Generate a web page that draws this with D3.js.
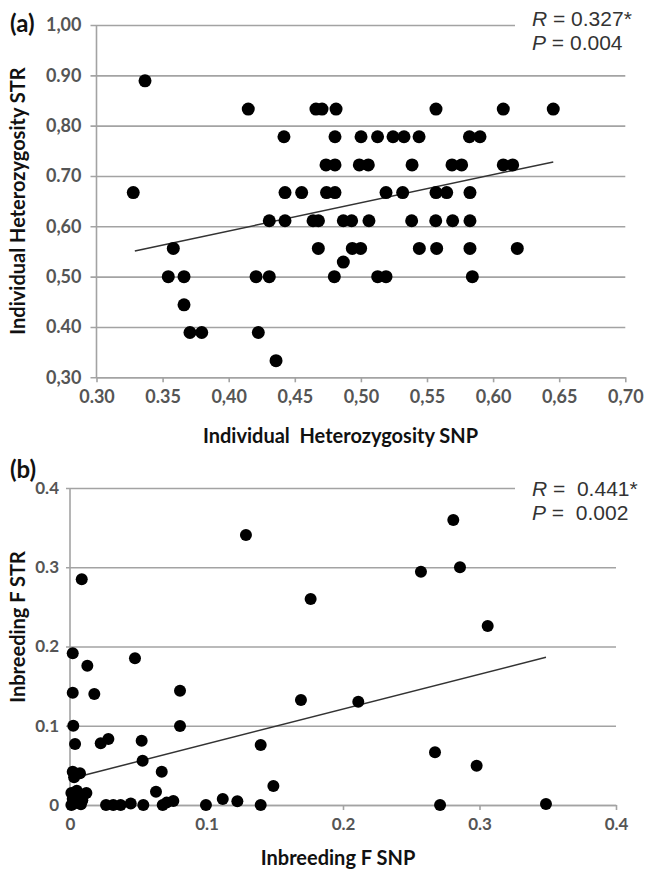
<!DOCTYPE html>
<html><head><meta charset="utf-8">
<script src="https://cdn.jsdelivr.net/npm/d3@7"></script>
<style>body{margin:0;background:#fff}svg{display:block}</style>
</head><body><svg id="c" width="646" height="869"></svg>
<script>
// ---------- Panel (a) data ----------
const snpHet = [
  0.3367,
  0.4148, 0.4660, 0.4706, 0.4812, 0.5568, 0.6077, 0.6455,
  0.4418, 0.4804, 0.5001, 0.5126, 0.5243, 0.5326, 0.5440, 0.5821, 0.5901,
  0.4736, 0.4804, 0.4988, 0.5056, 0.5387, 0.5689, 0.5762, 0.6077, 0.6148,
  0.3278, 0.4426, 0.4552, 0.4740, 0.4804, 0.5190, 0.5316, 0.5568, 0.5649, 0.5825,
  0.4307, 0.4426, 0.4638, 0.4679, 0.4867, 0.4930, 0.5061, 0.5384, 0.5566, 0.5694, 0.5825,
  0.3581, 0.4678, 0.4935, 0.4998, 0.5442, 0.5573, 0.5825, 0.6183,
  0.4867,
  0.3543, 0.3662, 0.4207, 0.4307, 0.4799, 0.5127, 0.5190, 0.5843,
  0.3662,
  0.3707, 0.3796, 0.4224,
  0.4358
];
const strHet = [
  0.889,
  0.833, 0.833, 0.833, 0.833, 0.833, 0.833, 0.833,
  0.778, 0.778, 0.778, 0.778, 0.778, 0.778, 0.778, 0.778, 0.778,
  0.722, 0.722, 0.722, 0.722, 0.722, 0.722, 0.722, 0.722, 0.722,
  0.667, 0.667, 0.667, 0.667, 0.667, 0.667, 0.667, 0.667, 0.667, 0.667,
  0.611, 0.611, 0.611, 0.611, 0.611, 0.611, 0.611, 0.611, 0.611, 0.611, 0.611,
  0.556, 0.556, 0.556, 0.556, 0.556, 0.556, 0.556, 0.556,
  0.529,
  0.500, 0.500, 0.500, 0.500, 0.500, 0.500, 0.500, 0.500,
  0.444,
  0.389, 0.389, 0.389,
  0.333
];
const trendHetX = [0.329, 0.6455];
const trendHetY = [0.551, 0.728];
const xTicksA = [0.30, 0.35, 0.40, 0.45, 0.50, 0.55, 0.60, 0.65, 0.70];
const xLabelsA = ["0.30", "0.35", "0,40", "0,45", "0,50", "0,55", "0,60", "0,65", "0,70"];
const yTicksA = [0.30, 0.40, 0.50, 0.60, 0.70, 0.80, 0.90, 1.00];
const yLabelsA = ["0,30", "0.40", "0,50", "0,60", "0.70", "0,80", "0.90", "1,00"];
const statsA = ["R", " = 0.327*", "P", " = 0.004"];

// ---------- Panel (b) data ----------
const snpF = [
  0.1289, 0.0086, 0.1763, 0.2808, 0.2571, 0.2857, 0.3060, 0.2112, 0.2674, 0.2979, 0.2711, 0.3487,
  0.0020, 0.0127, 0.0476, 0.0020, 0.0178, 0.0806, 0.1692, 0.0024, 0.0806, 0.0037, 0.0225, 0.0281,
  0.0525, 0.1397, 0.0532, 0.0672, 0.0020, 0.0073, 0.0030, 0.1490, 0.0630,
  0.0264, 0.0317, 0.0371, 0.0445, 0.0537, 0.0679, 0.0708, 0.0757, 0.0996, 0.1119, 0.1226, 0.1397,
  0.0010, 0.0020, 0.0030, 0.0040, 0.0060, 0.0080, 0.0100, 0.0120, 0.0010, 0.0050, 0.0090
];
const strF = [
  0.3407, 0.2848, 0.2600, 0.3596, 0.2944, 0.2999, 0.2259, 0.1303, 0.0665, 0.0496, 0.0000, 0.0013,
  0.1914, 0.1758, 0.1851, 0.1417, 0.1401, 0.1443, 0.1325, 0.1001, 0.0997, 0.0770, 0.0779, 0.0833,
  0.0812, 0.0757, 0.0559, 0.0420, 0.0420, 0.0400, 0.0350, 0.0240, 0.0168,
  0.0000, 0.0000, 0.0000, 0.0020, 0.0000, 0.0000, 0.0030, 0.0050, 0.0000, 0.0076, 0.0046, 0.0000,
  0.0150, 0.0080, 0.0020, 0.0120, 0.0040, 0.0010, 0.0130, 0.0150, 0.0000, 0.0180, 0.0060
];
const trendFX = [0.006, 0.3487];
const trendFY = [0.0357, 0.1864];
const xTicksB = [0, 0.1, 0.2, 0.3, 0.4];
const xLabelsB = ["0", "0.1", "0.2", "0.3", "0.4"];
const yTicksB = [0, 0.1, 0.2, 0.3, 0.4];
const yLabelsB = ["0", "0.1", "0.2", "0.3", "0.4"];
const statsB = ["R", " =  0.441*", "P", " =  0.002"];

const svg = d3.select("#c");
svg.append("rect").attr("width", 646).attr("height", 869).attr("fill", "#fff");

const GRID = "#a3a3a3";
const LABFONT = "Lato, 'Open Sans', sans-serif";

function drawPanel(o) {
  const g = svg.append("g");
  const [x0, x1] = o.x.range();
  const [yb, yt] = o.y.range();

  const ay = d3.axisLeft(o.y).tickValues(o.yTicks)
    .tickFormat((d, i) => o.yLabels[i])
    .tickSizeInner(-(x1 - x0 + o.tickExt)).tickSizeOuter(0).tickPadding(o.yPad);
  const gy = g.append("g").attr("transform", `translate(${x0 - o.tickExt},0)`).call(ay);
  gy.select(".domain").remove();
  gy.selectAll(".tick line").attr("stroke", GRID).attr("stroke-width", 1.6);
  gy.selectAll(".tick").filter(d => d === o.yTicks[o.yTicks.length - 1])
    .select("line").attr("x2", o.topGridEnd - (x0 - o.tickExt));
  gy.selectAll(".tick text").attr("fill", "#555").attr("font-family", LABFONT)
    .attr("font-weight", 700).attr("font-size", o.tickFont);

  g.append("line").attr("x1", x0).attr("x2", x0).attr("y1", yt).attr("y2", yb)
    .attr("stroke", GRID).attr("stroke-width", 1.6);

  const ax = d3.axisBottom(o.x).tickValues(o.xTicks)
    .tickFormat((d, i) => o.xLabels[i])
    .tickSizeInner(5).tickSizeOuter(0).tickPadding(o.xPad);
  const gx = g.append("g").attr("transform", `translate(0,${yb})`).call(ax);
  gx.select(".domain").attr("stroke", GRID).attr("stroke-width", 1.6);
  gx.selectAll(".tick line").attr("stroke", GRID).attr("stroke-width", 1.6);
  gx.selectAll(".tick text").attr("fill", "#555").attr("font-family", LABFONT)
    .attr("font-weight", 700).attr("font-size", o.tickFont);

  g.append("line")
    .attr("x1", o.x(o.trendX[0])).attr("y1", o.y(o.trendY[0]))
    .attr("x2", o.x(o.trendX[1])).attr("y2", o.y(o.trendY[1]))
    .attr("stroke", "#333").attr("stroke-width", 1.5);

  g.append("g").selectAll("circle").data(o.xs).join("circle")
    .attr("cx", d => o.x(d)).attr("cy", (d, i) => o.y(o.ys[i]))
    .attr("r", o.r).attr("fill", "#000");

  g.append("text").attr("x", o.xTitlePos[0]).attr("y", o.xTitlePos[1])
    .attr("text-anchor", "middle").attr("font-family", LABFONT).attr("font-weight", 700)
    .attr("font-size", 20).attr("fill", "#111").style("white-space", "pre").text(o.xTitle);
  g.append("text").attr("transform", `translate(${o.yTitlePos[0]},${o.yTitlePos[1]}) rotate(-90)`)
    .attr("text-anchor", "middle").attr("font-family", LABFONT).attr("font-weight", 700)
    .attr("font-size", 20).attr("fill", "#111").text(o.yTitle);

  g.append("text").attr("x", 10).attr("y", o.panelY).attr("font-family", LABFONT)
    .attr("font-weight", 700).attr("font-size", 24).attr("fill", "#111").text(o.panel);

  [0, 1].forEach(k => {
    const t = g.append("text").attr("x", 532).attr("y", o.statY[k])
      .attr("font-family", "'Liberation Sans', Arial, sans-serif").attr("font-size", 21)
      .attr("fill", "#333").style("white-space", "pre");
    t.append("tspan").attr("font-style", "italic").text(o.stats[2 * k]);
    t.append("tspan").text(o.stats[2 * k + 1]);
  });
}

drawPanel({
  x: d3.scaleLinear().domain([0.30, 0.70]).range([96.5, 625.3]),
  y: d3.scaleLinear().domain([0.30, 1.00]).range([377.3, 25]),
  xTicks: xTicksA, xLabels: xLabelsA, yTicks: yTicksA, yLabels: yLabelsA,
  tickExt: 6, yPad: 9, xPad: 8, tickFont: 18, topGridEnd: 515,
  xs: snpHet, ys: strHet, r: 6.5, trendX: trendHetX, trendY: trendHetY,
  xTitle: "Individual  Heterozygosity SNP", xTitlePos: [340.5, 443],
  yTitle: "Individual Heterozygosity STR", yTitlePos: [25, 201],
  panel: "(a)", panelY: 32, stats: statsA, statY: [26, 50]
});

drawPanel({
  x: d3.scaleLinear().domain([0, 0.4]).range([70, 616]),
  y: d3.scaleLinear().domain([0, 0.4]).range([805, 488]),
  xTicks: xTicksB, xLabels: xLabelsB, yTicks: yTicksB, yLabels: yLabelsB,
  tickExt: 4, yPad: 7, xPad: 8, tickFont: 17, topGridEnd: 515,
  xs: snpF, ys: strF, r: 6, trendX: trendFX, trendY: trendFY,
  xTitle: "Inbreeding F SNP", xTitlePos: [338, 865],
  yTitle: "Inbreeding F STR", yTitlePos: [25, 627],
  panel: "(b)", panelY: 478, stats: statsB, statY: [496, 520]
});
</script>
</body></html>
